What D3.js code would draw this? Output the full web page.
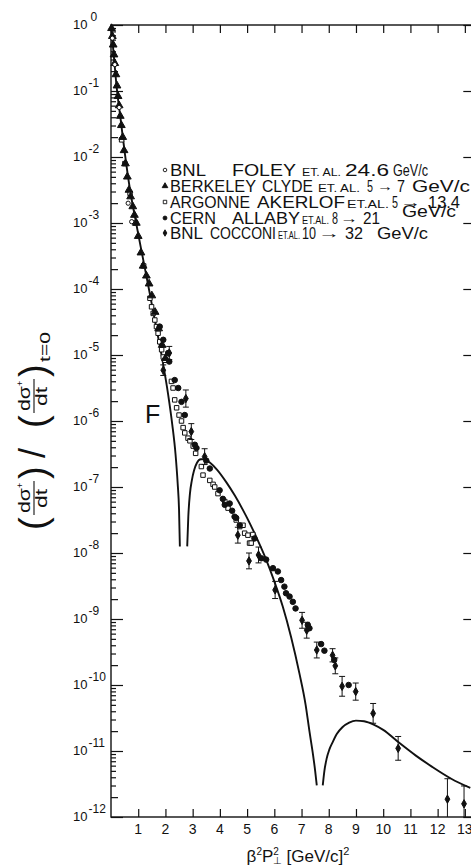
<!DOCTYPE html>
<html>
<head>
<meta charset="utf-8">
<script src="https://cdn.jsdelivr.net/npm/d3@7"></script>
<style>
  body { margin: 0; background: #fff; }
  svg { display: block; }
  text { font-family: "Liberation Sans", Arial, sans-serif; fill: #111; }
</style>
</head>
<body>
<div id="chart"></div>
<script>

// ---- data (log10 of the ratio) ----
var xTicks = [1, 2, 3, 4, 5, 6, 7, 8, 9, 10, 11, 12, 13];
var yExponents = [0, -1, -2, -3, -4, -5, -6, -7, -8, -9, -10, -11, -12];

// theory curve, three lobes split at the two dips
var theoryX1 = [0, 0.1, 0.21, 0.36, 0.51, 0.7, 0.9, 1.1, 1.37, 1.6, 1.9, 2.1, 2.25, 2.37, 2.45, 2.5, 2.53];
var theoryLog1 = [0, -0.45, -0.95, -1.45, -1.95, -2.5, -2.95, -3.38, -3.95, -4.45, -5.1, -5.6, -6.05, -6.5, -6.95, -7.35, -7.9];
var theoryX2 = [2.8, 2.84, 2.9, 2.97, 3.05, 3.15, 3.3, 3.45, 3.63, 3.9, 4.24, 4.55, 4.85, 5.1, 5.34, 5.7, 6.0, 6.31, 6.62, 6.92, 7.15, 7.29, 7.42, 7.5, 7.56];
var theoryLog2 = [-7.9, -7.45, -7.1, -6.9, -6.75, -6.64, -6.58, -6.58, -6.63, -6.74, -6.93, -7.13, -7.35, -7.55, -7.76, -8.1, -8.43, -8.81, -9.28, -9.82, -10.3, -10.7, -11.05, -11.3, -11.52];
var theoryX3 = [7.78, 7.84, 7.92, 8.02, 8.14, 8.3, 8.5, 8.75, 9.0, 9.3, 9.65, 10.0, 10.6, 11.2, 11.8, 12.5, 13.2];
var theoryLog3 = [-11.52, -11.3, -11.12, -10.98, -10.87, -10.74, -10.64, -10.57, -10.54, -10.55, -10.6, -10.68, -10.88, -11.07, -11.24, -11.42, -11.56];

// BNL Foley (open circles)
var foleyX = [0.05, 0.14, 0.3, 0.63, 0.76];
var foleyLog = [-0.2, -0.6, -1.25, -2.7, -2.98];

// Berkeley Clyde (triangles)
var clydeX = [0.02, 0.05, 0.08, 0.11, 0.14, 0.18, 0.22, 0.26, 0.3, 0.34, 0.38, 0.43, 0.48, 0.53, 0.6, 0.66, 0.72, 0.8, 0.86, 0.93, 1.0, 1.1, 1.18, 1.3, 1.4, 1.5, 1.62, 1.75, 1.88, 2.0];
var clydeLog = [-0.05, -0.17, -0.3, -0.45, -0.58, -0.75, -0.92, -1.08, -1.22, -1.38, -1.52, -1.7, -1.9, -2.1, -2.3, -2.5, -2.6, -2.75, -2.88, -3.0, -3.2, -3.45, -3.65, -3.8, -3.92, -4.1, -4.35, -4.6, -4.85, -5.05];

// Argonne Akerlof (open squares)
var akerlofX = [0.39, 0.51, 0.7, 0.9, 1.2, 1.43, 1.49, 1.55, 1.61, 1.67, 1.73, 1.79, 1.86, 1.92, 1.98, 2.22, 2.28, 2.34, 2.41, 2.5, 2.59, 2.65, 2.71, 2.83, 2.9, 3.02, 3.11, 3.32, 3.38, 3.63, 3.75, 3.81, 3.93, 4.18, 4.3, 4.6, 4.73, 4.85, 4.91, 5.03, 5.09, 5.15, 5.21];
var akerlofLog = [-1.74, -2.1, -2.55, -3.0, -3.65, -4.14, -4.27, -4.37, -4.47, -4.57, -4.67, -4.8, -4.92, -5.03, -5.08, -5.4, -5.5, -5.68, -5.8, -5.91, -6.0, -6.1, -6.18, -6.26, -6.3, -6.38, -6.49, -6.69, -6.82, -6.9, -6.96, -7.0, -7.1, -7.22, -7.32, -7.5, -7.6, -7.58, -7.7, -7.73, -7.85, -7.85, -7.72];

// CERN Allaby (filled circles)
var allabyX = [1.79, 1.92, 2.1, 2.14, 2.34, 2.47, 2.59, 2.71, 3.08, 3.14, 3.5, 3.63, 3.99, 4.11, 4.18, 4.36, 4.45, 4.54, 4.6, 4.73, 5.27, 5.52, 5.7, 5.95, 6.13, 6.25, 6.37, 6.43, 6.56, 6.68, 6.78, 7.23, 7.29, 7.72, 7.84, 8.2, 8.73];
var allabyLog = [-4.57, -4.77, -4.97, -5.1, -5.38, -5.5, -5.71, -5.91, -6.36, -6.41, -6.6, -6.72, -7.05, -7.18, -7.27, -7.25, -7.36, -7.45, -7.47, -7.58, -7.78, -8.08, -8.1, -8.23, -8.28, -8.41, -8.51, -8.61, -8.66, -8.74, -8.84, -9.09, -9.14, -9.38, -9.48, -9.62, -10.0];

// BNL Cocconi (diamonds with error bars, in decades)
var cocconiX = [1.92, 2.14, 2.75, 2.95, 3.44, 4.66, 5.07, 5.42, 6.03, 7.02, 7.19, 7.56, 8.14, 8.24, 8.49, 8.99, 9.63, 10.55, 12.36, 12.97];
var cocconiLog = [-5.23, -4.97, -5.66, -6.16, -6.54, -7.73, -8.12, -8.03, -8.56, -9.02, -9.17, -9.47, -9.55, -9.71, -10.02, -10.1, -10.43, -10.96, -11.73, -11.8];
var cocconiErrUp = [0.08, 0.1, 0.13, 0.12, 0.12, 0.12, 0.12, 0.12, 0.13, 0.12, 0.12, 0.12, 0.1, 0.12, 0.15, 0.13, 0.15, 0.18, 0.31, 0.27];
var cocconiErrDn = [0.08, 0.1, 0.13, 0.12, 0.12, 0.12, 0.12, 0.12, 0.13, 0.12, 0.12, 0.12, 0.1, 0.12, 0.15, 0.13, 0.15, 0.18, 0.4, 0.4];

// legend
var legendSym = ['circleOpen', 'triangle', 'squareOpen', 'circle', 'diamond'];
var legendLab = ['BNL', 'BERKELEY', 'ARGONNE', 'CERN', 'BNL'];
var legendAuthor = ['FOLEY', 'CLYDE', 'AKERLOF', 'ALLABY', 'COCCONI'];
var legendEtal = ['ET. AL.', 'ET. AL.', 'ET.AL.', 'ET.AL.', 'ET.AL.'];
var legendFrom = ['24.6', '5', '5', '8', '10'];
var legendTo = ['', '7', '13.4', '21', '32'];
var legendUnit = ['GeV/c', 'GeV/c', '', 'GeV/c', 'GeV/c'];

// ---- layout ----
var W = 471, H = 867;
var pL = 111, pR = 470.3, pT = 25, pB = 817;

var svg = d3.select('#chart').append('svg')
  .attr('width', W)
  .attr('height', H);

var x = d3.scaleLinear().domain([0, 13.2]).range([pL, pR]);
var y = d3.scaleLog().domain([1e-12, 1]).range([pB, pT]);

function p10(v){ return Math.pow(10, v); }

// frame
svg.append('rect')
  .attr('x', pL).attr('y', pT)
  .attr('width', pR - pL + 2).attr('height', pB - pT)
  .style('fill', 'none').style('stroke', '#111').style('stroke-width', 1.4);

// minor y ticks
var minorVals = [];
yExponents.slice(1).forEach(function(e){
  for (var k = 2; k <= 9; k++) minorVals.push(k * p10(e));
});

var tickStyle = function(g){
  g.select('.domain').remove();
  g.selectAll('line').style('stroke', '#111').style('stroke-width', 1.2);
};

svg.append('g').attr('transform', 'translate(' + pL + ',0)')
  .call(d3.axisRight(y).tickValues(yExponents.map(p10)).tickSize(12).tickFormat(''))
  .call(tickStyle);
svg.append('g').attr('transform', 'translate(' + pL + ',0)')
  .call(d3.axisRight(y).tickValues(minorVals).tickSize(5).tickFormat(''))
  .call(tickStyle)
  .selectAll('.tick line')
  .attr('x2', function(d){ return Math.abs(d / p10(Math.floor(Math.log10(d) + 1e-9)) - 2) < 1e-6 ? 7 : 5; });

svg.append('g').attr('transform', 'translate(' + (pR + 1) + ',0)')
  .call(d3.axisLeft(y).tickValues(yExponents.map(p10)).tickSize(8).tickFormat(''))
  .call(tickStyle);

svg.append('g').attr('transform', 'translate(0,' + pB + ')')
  .call(d3.axisTop(x).tickValues(xTicks).tickSize(8).tickFormat(''))
  .call(tickStyle);
svg.append('g').attr('transform', 'translate(0,' + pT + ')')
  .call(d3.axisBottom(x).tickValues(xTicks).tickSize(8).tickFormat(''))
  .call(tickStyle);

// x tick labels
svg.append('g').selectAll('text')
  .data(xTicks)
  .enter().append('text')
  .attr('x', function(d){ return x(d); })
  .attr('y', pB + 17)
  .attr('text-anchor', 'middle')
  .style('font-size', '14px')
  .text(function(d){ return d; });

// y tick labels
var yl = svg.append('g').selectAll('text')
  .data(yExponents)
  .enter().append('text')
  .attr('x', 73)
  .attr('y', function(d){ return y(p10(d)) + 4; })
  .style('font-size', '13px');
yl.append('tspan').text('10');
yl.append('tspan')
  .attr('dx', function(d){ return d === 0 ? 3 : 1; })
  .attr('dy', -8)
  .style('font-size', '12px')
  .text(function(d){ return d === 0 ? '0' : '-' + (-d); });

// theory curve
var line = d3.line()
  .x(function(d){ return x(d[0]); })
  .y(function(d){ return y(p10(d[1])); })
  .curve(d3.curveMonotoneX);

[[theoryX1, theoryLog1], [theoryX2, theoryLog2], [theoryX3, theoryLog3]].forEach(function(s){
  svg.append('path')
    .datum(d3.zip(s[0], s[1]))
    .attr('d', line)
    .style('fill', 'none')
    .style('stroke', '#111')
    .style('stroke-width', 1.9);
});

// markers
var symDefs = {
  circleOpen: {type: d3.symbolCircle, size: 14, fill: '#fff'},
  triangle: {type: d3.symbolTriangle, size: 26, fill: '#111'},
  squareOpen: {type: d3.symbolSquare, size: 20, fill: '#fff'},
  circle: {type: d3.symbolCircle, size: 24, fill: '#111'},
  diamond: {type: d3.symbolDiamond, size: 20, fill: '#111'}
};

function drawPoints(xs, ls, kind){
  var def = symDefs[kind];
  svg.append('g').selectAll('path')
    .data(d3.zip(xs, ls))
    .enter().append('path')
    .attr('transform', function(d){ return 'translate(' + x(d[0]) + ',' + y(p10(d[1])) + ')'; })
    .attr('d', d3.symbol().type(def.type).size(def.size))
    .style('fill', def.fill)
    .style('stroke', '#111')
    .style('stroke-width', 1);
}

drawPoints(akerlofX, akerlofLog, 'squareOpen');
drawPoints(allabyX, allabyLog, 'circle');
drawPoints(clydeX, clydeLog, 'triangle');
drawPoints(foleyX, foleyLog, 'circleOpen');

// cocconi error bars
var eb = svg.append('g').selectAll('g')
  .data(cocconiX.map(function(v, i){
    return {x: v, l: cocconiLog[i], up: cocconiErrUp[i], dn: cocconiErrDn[i]};
  }))
  .enter().append('g');
eb.append('line')
  .attr('x1', function(d){ return x(d.x); })
  .attr('x2', function(d){ return x(d.x); })
  .attr('y1', function(d){ return y(p10(d.l + d.up)); })
  .attr('y2', function(d){ return Math.min(pB, y(p10(d.l - d.dn))); })
  .style('stroke', '#111').style('stroke-width', 1);
eb.append('line')
  .attr('x1', function(d){ return x(d.x) - 3; })
  .attr('x2', function(d){ return x(d.x) + 3; })
  .attr('y1', function(d){ return y(p10(d.l + d.up)); })
  .attr('y2', function(d){ return y(p10(d.l + d.up)); })
  .style('stroke', '#111').style('stroke-width', 1);
eb.filter(function(d){ return y(p10(d.l - d.dn)) < pB; })
  .append('line')
  .attr('x1', function(d){ return x(d.x) - 3; })
  .attr('x2', function(d){ return x(d.x) + 3; })
  .attr('y1', function(d){ return y(p10(d.l - d.dn)); })
  .attr('y2', function(d){ return y(p10(d.l - d.dn)); })
  .style('stroke', '#111').style('stroke-width', 1);
drawPoints(cocconiX, cocconiLog, 'diamond');

// legend
var legSymDefs = {
  circleOpen: {type: d3.symbolCircle, size: 10, fill: '#fff'},
  triangle: {type: d3.symbolTriangle, size: 14, fill: '#111'},
  squareOpen: {type: d3.symbolSquare, size: 12, fill: '#fff'},
  circle: {type: d3.symbolCircle, size: 12, fill: '#111'},
  diamond: {type: d3.symbolDiamond, size: 12, fill: '#111'}
};
var legBase = [176, 192, 208, 224, 239];
// [start, end] of each piece on every row
var labPos = [[170, 206], [170, 256], [170, 250], [170, 216], [170, 203]];
var authPos = [[232, 296], [262, 313], [257, 345], [232, 300], [210, 276]];
var etalPos = [[302, 341], [318, 360], [347, 389], [302, 329], [278, 300]];
var fromPos = [[345, 389], [367, 373], [392, 398], [332, 338], [302, 316]];
var arrowPos = [null, [377, 393], [400, 421], [340, 358], [318, 340]];
var toPos = [null, [397, 405], [428, 460], [363, 380], [345, 363]];
var unitPos = [[393, 428], [412, 470], null, [402, 456], [377, 428]];
var unitBase = [176, 192, 208, 217, 239];

function piece(txt, pos, base, size){
  if (!pos || !txt) return;
  svg.append('text')
    .attr('x', pos[0]).attr('y', base)
    .attr('textLength', pos[1] - pos[0])
    .attr('lengthAdjust', 'spacingAndGlyphs')
    .style('font-size', size + 'px')
    .text(txt);
}

legendSym.forEach(function(k, i){
  var def = legSymDefs[k];
  svg.append('path')
    .attr('transform', 'translate(165,' + (legBase[i] - 6) + ')')
    .attr('d', d3.symbol().type(def.type).size(def.size))
    .style('fill', def.fill).style('stroke', '#111').style('stroke-width', 0.9);
  piece(legendLab[i], labPos[i], legBase[i], 16.5);
  piece(legendAuthor[i], authPos[i], legBase[i], 16.5);
  piece(legendEtal[i], etalPos[i], legBase[i], 10.5);
  piece(legendFrom[i], fromPos[i], legBase[i], 16.5);
  if (arrowPos[i]) piece('\u2192', arrowPos[i], legBase[i] - 1, 14);
  piece(legendTo[i], toPos[i], legBase[i], 16.5);
  piece(legendUnit[i], unitPos[i], unitBase[i], 16.5);
});

// F label
svg.append('text').attr('x', 145).attr('y', 423)
  .style('font-size', '25px').text('F');

// x axis title
var xt = svg.append('text').attr('x', 298).attr('y', 862)
  .attr('text-anchor', 'middle').style('font-size', '17px');
xt.append('tspan').text('\u03B2');
xt.append('tspan').attr('dy', -7).style('font-size', '10px').text('2');
xt.append('tspan').attr('dy', 7).text('P');
xt.append('tspan').attr('dy', -7).style('font-size', '10px').text('2');
xt.append('tspan').attr('dx', -6).attr('dy', 9).style('font-size', '10px').text('\u22A5');
xt.append('tspan').attr('dy', -2).text('  [GeV/c]');
xt.append('tspan').attr('dy', -7).style('font-size', '11px').text('2');

// y axis title (rotated, reads bottom to top)
var yt = svg.append('g').attr('transform', 'translate(34,530) rotate(-90)');
function frac(g, u){
  g.append('text').attr('x', u + 2).attr('y', -4).style('font-size', '16px')
    .attr('textLength', 25).attr('lengthAdjust', 'spacingAndGlyphs').text('d\u03C3');
  g.append('text').attr('x', u + 27).attr('y', -11).style('font-size', '9px').text('+');
  g.append('line').attr('x1', u).attr('x2', u + 34).attr('y1', 0).attr('y2', 0)
    .style('stroke', '#111').style('stroke-width', 1.1);
  g.append('text').attr('x', u + 7).attr('y', 13).style('font-size', '16px')
    .attr('textLength', 19).attr('lengthAdjust', 'spacingAndGlyphs').text('dt');
}
yt.append('text').attr('x', 0).attr('y', 12).style('font-size', '38px').text('(');
frac(yt, 15);
yt.append('text').attr('x', 51).attr('y', 12).style('font-size', '38px').text(')');
yt.append('text').attr('x', 72).attr('y', 11).style('font-size', '36px').text('/');
yt.append('text').attr('x', 102).attr('y', 12).style('font-size', '38px').text('(');
frac(yt, 117);
yt.append('text').attr('x', 153).attr('y', 12).style('font-size', '38px').text(')');
yt.append('text').attr('x', 168).attr('y', 16).style('font-size', '14px')
  .attr('textLength', 30).attr('lengthAdjust', 'spacingAndGlyphs').text('t=0');

</script>
</body>
</html>
